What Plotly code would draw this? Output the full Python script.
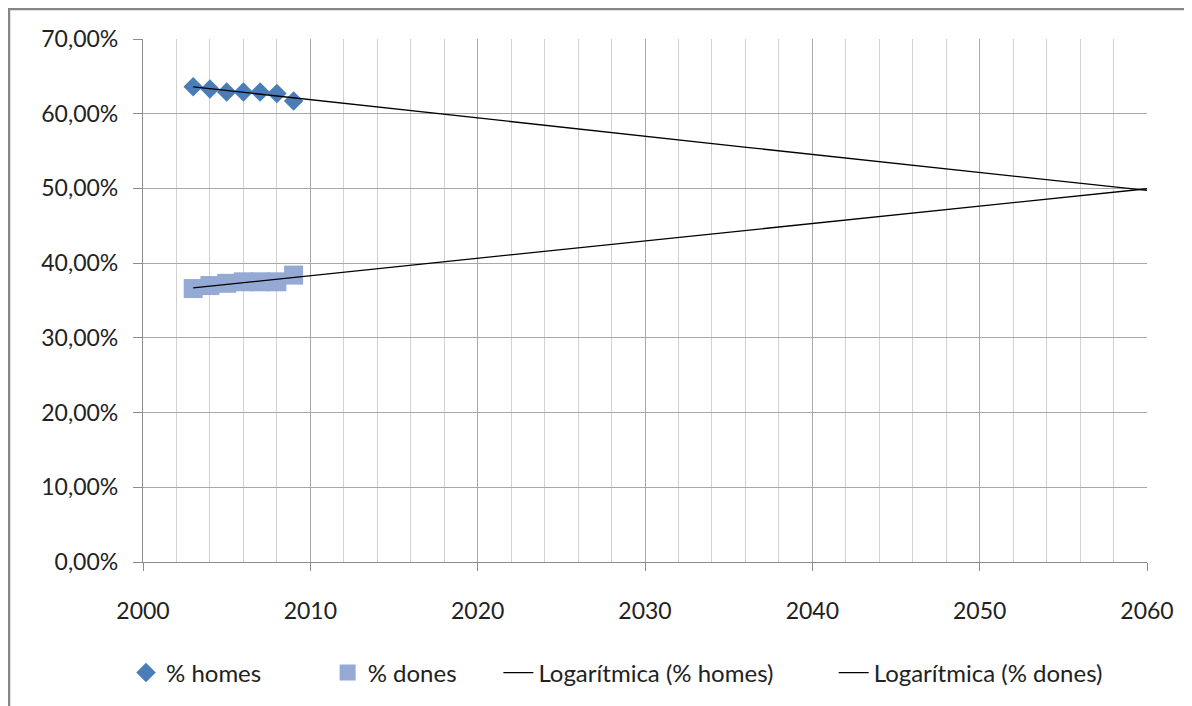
import numpy as np
import plotly.graph_objects as go

years = [2003, 2004, 2005, 2006, 2007, 2008, 2009]
homes = [0.636, 0.633, 0.629, 0.629, 0.629, 0.627, 0.617]
dones = [0.366, 0.370, 0.373, 0.375, 0.375, 0.375, 0.384]
trend_end = 2060
x_ticks = [2000, 2010, 2020, 2030, 2040, 2050, 2060]
y_ticks = [0, 0.1, 0.2, 0.3, 0.4, 0.5, 0.6, 0.7]
names = ["% homes", "% dones", "Logarítmica (% homes)", "Logarítmica (% dones)"]

FONT = "Lato, 'Open Sans', sans-serif"
W, H = 1192, 706
OFF = 8  # page offset of the figure (body margin)
L, R, T, B = 143 - OFF, 1147 - OFF, 39 - OFF, 562 - OFF
NB = "\u00a0"


def log_trend(xs, ys):
    a, b = np.polyfit(np.log(np.array(xs, dtype=float)), np.array(ys), 1)
    tx = np.linspace(xs[0], trend_end, 200)
    return tx, a * np.log(tx) + b


fig = go.Figure()
fig.add_trace(go.Scatter(x=years, y=homes, mode="markers", name=names[0] + NB * 10,
                         marker=dict(symbol="diamond", size=15, color="#4A7DB8")))
fig.add_trace(go.Scatter(x=years, y=dones, mode="markers", name=names[1] + NB * 6,
                         marker=dict(symbol="square", size=19, color="#94AAD5")))
tx, ty = log_trend(years, homes)
fig.add_trace(go.Scatter(x=tx, y=ty, mode="lines", name=names[2] + NB * 9,
                         line=dict(color="black", width=1.3)))
tx, ty = log_trend(years, dones)
fig.add_trace(go.Scatter(x=tx, y=ty, mode="lines", name=names[3],
                         line=dict(color="black", width=1.3)))

pw, ph = R - L, B - T
fig.add_shape(type="rect", xref="paper", yref="paper",
              x0=(1 - L) / pw, x1=(W + 20 - L) / pw,
              y0=(B - (H + 20)) / ph, y1=(B - 1) / ph,
              line=dict(color="#868686", width=2.5), layer="below")

fig.update_layout(
    width=W, height=H,
    margin=dict(l=L, r=W - R, t=T, b=H - B),
    paper_bgcolor="white", plot_bgcolor="white",
    separators=",.",
    font=dict(family=FONT, size=23, color="#222222"),
    showlegend=True,
    legend=dict(orientation="h", x=(126 - OFF - L) / pw, xanchor="left",
                y=(B - (673 - OFF)) / ph, yanchor="middle",
                font=dict(family=FONT, size=24, color="#222222"),
                itemwidth=30, tracegroupgap=0),
    xaxis=dict(range=[2000, 2060], tickvals=x_ticks, showgrid=True,
               gridcolor="#A8A8A8", gridwidth=1.3,
               minor=dict(dtick=2, showgrid=True, gridcolor="#D0D0D0", gridwidth=1.3),
               showline=True, linecolor="#8C8C8C", linewidth=1.3,
               ticks="outside", ticklen=8, tickcolor="#8C8C8C",
               ticklabelstandoff=20, zeroline=False),
    yaxis=dict(range=[0, 0.7], tickvals=y_ticks, tickformat=".2%",
               showgrid=True, gridcolor="#A8A8A8", gridwidth=1.3,
               showline=True, linecolor="#8C8C8C", linewidth=1.3,
               ticks="outside", ticklen=9, tickcolor="#8C8C8C",
               ticklabelstandoff=10, zeroline=False),
)

fig.write_html("out.html")
